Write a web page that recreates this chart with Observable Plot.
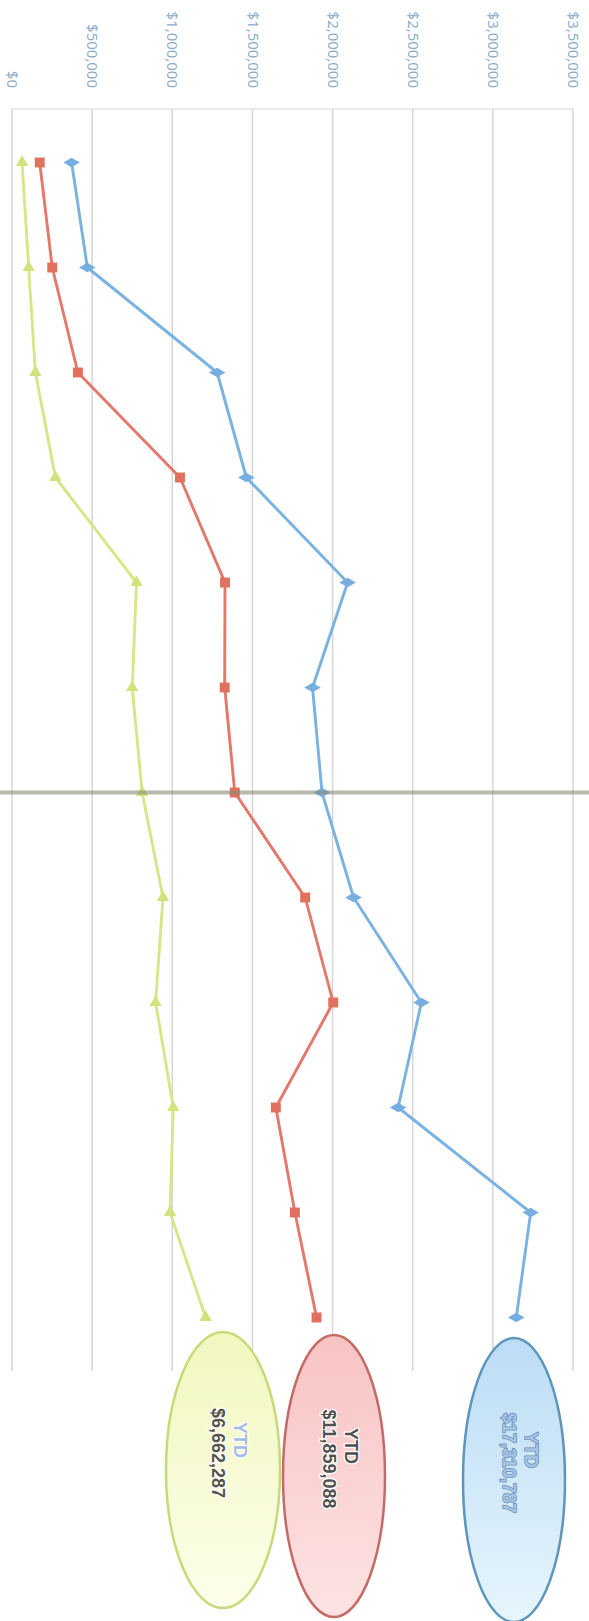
<!DOCTYPE html>
<html>
<head>
<meta charset="utf-8">
<script src="https://cdn.jsdelivr.net/npm/d3@7"></script>
<script src="https://cdn.jsdelivr.net/npm/@observablehq/plot@0.6"></script>
<style>
  html, body { margin: 0; padding: 0; background: #fff; overflow: hidden; width: 589px; height: 1621px; }
  /* the chart is laid out landscape and turned a quarter clockwise onto the page */
  #chart { position: absolute; left: 0; top: 0; width: 1621px; height: 589px;
           transform-origin: 0 0; transform: translateX(589px) rotate(90deg); }
</style>
</head>
<body>
<div id="chart"></div>
<script>
// ---- data -------------------------------------------------------------
const months = ["Jan", "Feb", "Mar", "Apr", "May", "Jun", "Jul", "Aug", "Sep", "Oct", "Nov", "Dec"];
const seriesNames = ["Series 1", "Series 2", "Series 3"];
const series1Values = [372000, 470000, 1280000, 1462000, 2094000, 1875000, 1934000, 2131000, 2554000, 2409000, 3236000, 3146000];
const series2Values = [173000, 251000, 411000, 1048000, 1329000, 1327000, 1390000, 1829000, 2004000, 1646000, 1765000, 1900000];
const series3Values = [63000, 104000, 146000, 271000, 777000, 750000, 812000, 942000, 896000, 1006000, 986000, 1208000];
const ytdTotals   = [17310787, 11859088, 6662287];
const ytdLabel    = "YTD";
const yTicks      = [0, 500000, 1000000, 1500000, 2000000, 2500000, 3000000, 3500000];
const markerMonth = "Jul";

// ---- table built from the arrays ---------------------------------------
const valueSets = [series1Values, series2Values, series3Values];
const rows = [];
seriesNames.forEach((s, i) => months.forEach((m, j) => rows.push({series: s, month: m, value: valueSets[i][j]})));

// ---- styling ---------------------------------------------------------
const lineColors   = ["#7ab2e2", "#e3786b", "#d5e788"];
const markerColors = ["#76aee0", "#e2705f", "#d0e37c"];
const markerShapes = ["diamond", "square", "triangle"];
const markerSizes  = [5, 5.6, 4.6];
const markerTurn   = [0, 0, -90];
const W = 1621, H = 589;
const M = {left: 108.5, right: 250, top: 15.5, bottom: 12.5};

const fmt = d3.format("$,");

const chart = Plot.plot({
  width: W,
  height: H,
  marginLeft: M.left,
  marginRight: M.right,
  marginTop: M.top,
  marginBottom: M.bottom,
  style: {fontFamily: "'Open Sans', sans-serif", background: "transparent", overflow: "visible"},
  x: {type: "point", domain: months, padding: 0.5, axis: null},
  y: {domain: [0, 3500000], axis: null},
  color: {domain: seriesNames, range: lineColors},
  marks: [
    Plot.gridY(yTicks, {stroke: "#d6d6d6", strokeOpacity: 1, strokeWidth: 1.5}),
    Plot.frame({anchor: "left", stroke: "#e4e4e4", strokeWidth: 1.5}),
    Plot.axisY(yTicks, {
      tickSize: 0, tickPadding: 21, tickFormat: fmt, label: null,
      fontSize: 15, fill: "#8eaac3", color: "#8eaac3"
    }),
    Plot.line(rows, {x: "month", y: "value", z: "series", stroke: "series", strokeWidth: 2.9, curve: "linear"}),
    ...seriesNames.map((s, i) => Plot.dot(rows.filter(d => d.series === s), {
      x: "month", y: "value", symbol: markerShapes[i], r: markerSizes[i],
      fill: markerColors[i], stroke: null, rotate: markerTurn[i]
    })),
    // vertical marker through the current month
    Plot.ruleX([markerMonth], {stroke: "#8a8a74", strokeOpacity: 0.6, strokeWidth: 4, insetTop: -M.top, insetBottom: -M.bottom})
  ]
});

// ---- YTD badges to the right of the plot --------------------------------
const badgeLayout = [
  {cx: 1480, cy: 75,  rx: 142, ry: 51, fillA: "#bcdcf5", fillB: "#e6f5fd", edge: "#5e95bd",
   labelFill: "#a6c6e8", valueFill: "#a6c6e8", textStroke: "#6d8db0", halo: 1.6},
  {cx: 1476, cy: 255, rx: 141, ry: 51, fillA: "#f8c3c3", fillB: "#fde3e3", edge: "#c56a66",
   labelFill: "#505050", valueFill: "#505050", textStroke: "#ffffff", halo: 2.5},
  {cx: 1470, cy: 366, rx: 138, ry: 57, fillA: "#f1f7be", fillB: "#fdfeea", edge: "#c6da7a",
   labelFill: "#a5bbe2", valueFill: "#55554a", textStroke: "#ffffff", halo: 2.5}
];

const svg = d3.select(chart);
const defs = svg.append("defs");
const badges = svg.append("g").attr("font-family", "'Liberation Sans', Arial, sans-serif");

ytdTotals.forEach((total, i) => {
  const b = badgeLayout[i];
  const gid = "ytdfill" + i;
  const grad = defs.append("linearGradient").attr("id", gid)
    .attr("x1", "0").attr("y1", "0").attr("x2", "1").attr("y2", "0");
  grad.append("stop").attr("offset", "0%").attr("stop-color", b.fillA);
  grad.append("stop").attr("offset", "100%").attr("stop-color", b.fillB);

  badges.append("ellipse")
    .attr("cx", b.cx).attr("cy", b.cy).attr("rx", b.rx).attr("ry", b.ry)
    .attr("fill", `url(#${gid})`)
    .attr("stroke", b.edge).attr("stroke-width", 2.5);

  const lines = [
    {text: ytdLabel,   dx: -30, dy: -17, fill: b.labelFill},
    {text: fmt(total), dx: -17, dy: 5,   fill: b.valueFill}
  ];
  lines.forEach(l => {
    badges.append("text")
      .attr("x", b.cx + l.dx).attr("y", b.cy + l.dy)
      .attr("text-anchor", "middle").attr("dy", "0.35em")
      .attr("font-size", 18).attr("font-weight", "bold")
      .attr("fill", l.fill)
      .attr("stroke", b.textStroke).attr("stroke-width", b.halo)
      .attr("stroke-linejoin", "round")
      .attr("paint-order", "stroke")
      .text(l.text);
  });
});

document.getElementById("chart").appendChild(chart);
</script>
</body>
</html>
